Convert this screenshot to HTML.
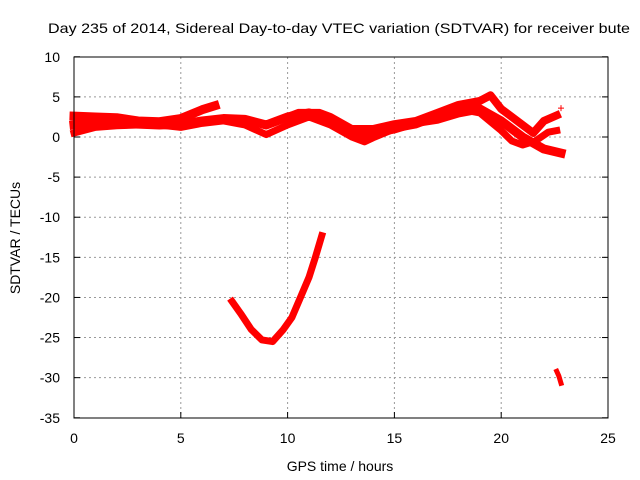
<!DOCTYPE html>
<html><head><meta charset="utf-8"><style>
html,body{margin:0;padding:0;background:#fff;}
svg{display:block;font-family:"Liberation Sans",sans-serif;font-size:14px;}
</style></head><body>
<svg id="chart" width="640" height="480" viewBox="0 0 640 480">
<rect x="0" y="0" width="640" height="480" fill="#fff"/>
<g id="grid"></g>
<g id="series"></g>
<rect x="74" y="57" width="534" height="361" fill="none" stroke="#000" stroke-width="1"/>
<g id="ticks"></g>
<text x="48" y="33" textLength="582" lengthAdjust="spacingAndGlyphs">Day 235 of 2014, Sidereal Day-to-day VTEC variation (SDTVAR) for receiver bute</text>
<text x="340" y="471" text-anchor="middle">GPS time / hours</text>
<text x="20" y="238" text-anchor="middle" transform="rotate(-90 20 238)">SDTVAR / TECUs</text>
</svg>
<script>
const xTicks=[0,5,10,15,20,25];
const yTicks=[10,5,0,-5,-10,-15,-20,-25,-30,-35];
const trackA=[[0,1.5],[1,1.8],[2,1.8],[3,1.6],[4,1.5],[5,1.6],[6,2.0],[7,2.3],[8,2.2],[9,1.5],[10,2.5],[11,3.0],[12,2.2],[13,0.8],[13.5,0],[14,0.5],[15,1.0],[16,1.8],[17,2.2],[18,3.0],[19,3.5],[20,2.0],[21,0],[22,-1.5],[22.8,-2]];
const trackB=[[0,2.6],[1,2.5],[2,2.4],[3,2.0],[4,1.9],[5,2.3],[6,3.4],[6.6,3.9]];
const trackB2=[[9.5,2.0],[10.5,3.0],[11.5,3.0],[12,2.5],[13,1.0],[14,1.0],[15,1.6],[16,2.0],[17,3.0],[18,4.0],[19,4.5],[19.5,5.2],[20,3.5],[21,1.5],[21.5,0.5],[22,2.0],[22.6,2.7]];
const trackC=[[0,0.5],[1,1.2],[2,1.4],[3,1.5],[4,1.5],[5,1.2],[6,1.7],[7,2.0],[8,1.5],[9,0.3],[10,1.5],[11,2.5],[12,1.5],[13,0],[13.6,-0.6],[14,-0.1],[15,1.0],[16,1.5],[17,2.5],[18,3.5],[19,3.0],[20,0.8],[20.5,-0.5],[21,-1.0],[21.6,-0.5],[22.2,0.6],[22.6,0.8]];
const arc=[[7.4,-20.5],[7.8,-22],[8.3,-24],[8.8,-25.3],[9.3,-25.5],[9.8,-24],[10.2,-22.5],[10.6,-20],[11,-17.5],[11.3,-15],[11.6,-12.3]];
const tail=[[22.6,-29.2],[22.7,-29.8],[22.8,-30.7]];
const lone=[[22.8,3.6]];
const NS='http://www.w3.org/2000/svg';
const X=v=>74+v*(534/25);
const Y=v=>137-v*(361/45);
const grid=document.getElementById('grid'),ticks=document.getElementById('ticks'),ser=document.getElementById('series');
function mk(t,a,p){const e=document.createElementNS(NS,t);for(const k in a)e.setAttribute(k,a[k]);p.appendChild(e);return e;}
xTicks.forEach(v=>{
 if(v>0&&v<25){const g=mk('line',{x1:X(v),x2:X(v),y1:57,y2:418,stroke:'#999','stroke-dasharray':'2,3'},grid);
 
 }
 const t=mk('line',{x1:X(v),x2:X(v),y1:418,y2:412,stroke:'#000'},ticks);
 
 
 const l=mk('text',{x:X(v),y:443,'text-anchor':'middle'},ticks);l.textContent=v;
 
 
});
yTicks.forEach(v=>{
 if(v<10&&v>-35){const g=mk('line',{x1:74,x2:608,y1:Y(v),y2:Y(v),stroke:'#999','stroke-dasharray':'2,3'},grid);
 
 }
 const t=mk('line',{x1:74,x2:80,y1:Y(v),y2:Y(v),stroke:'#000'},ticks);
 
 
 const t2=mk('line',{x1:602,x2:608,y1:Y(v),y2:Y(v),stroke:'#000'},ticks);
 
 
 const l=mk('text',{x:60,y:Y(v)+5,'text-anchor':'end'},ticks);l.textContent=v;
 
 
});
function track(d,name,w){
 const p=mk('polyline',{points:d.map(q=>X(q[0])+','+Y(q[1])).join(' '),fill:'none',stroke:'#f00','stroke-width':w,'stroke-linejoin':'round','stroke-linecap':'square'},ser);
 
 
}
track(trackA,'series-track-a',9);
track(trackB,'series-track-b',9);
track(trackB2,'series-track-b2',8);
track(trackC,'series-track-c',7);
track(arc,'series-arc',7);
track(tail,'series-tail',5);
lone.forEach(q=>{
 const p=mk('path',{d:`M${X(q[0])-3},${Y(q[1])}h6M${X(q[0])},${Y(q[1])-3}v6`,stroke:'#f00','stroke-width':1},ser);
 
 
});
</script>
</body></html>
